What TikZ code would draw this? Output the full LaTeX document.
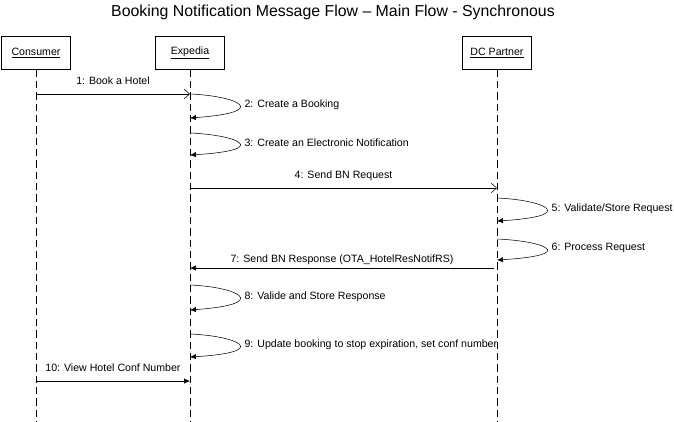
\documentclass[tikz,border=0pt]{standalone}
\usepackage{fontspec}
\setmainfont{Liberation Sans}
\usetikzlibrary{arrows.meta}
\begin{document}
\begin{tikzpicture}[x=0.75pt,y=-0.75pt, font=\fontsize{7.95}{9.5}\selectfont,
  actor/.style={draw, minimum width=52pt, minimum height=24.5pt, inner sep=0pt},
  life/.style={dash pattern=on 5.5pt off 3pt},
  msg/.style={-{Straight Barb[length=4pt,width=7pt]}},
  ret/.style={-{Latex[length=4.5pt,width=4pt]}},
  lbl/.style={inner sep=1pt},
  sl/.style={lbl, anchor=west}]
\useasboundingbox (0,0) rectangle (674,421);
\node[font=\fontsize{11.9}{13}\selectfont] (title) at (333,12) {Booking Notification Message Flow – Main Flow - Synchronous};
\node[actor] (con) at (36,53) {\underline{Consumer}};
\node[actor] (exp) at (190,53) {\underline{Expedia}};
\node[actor] (dcp) at (497,53) {\underline{DC Partner}};
\coordinate (conE) at (36,421);
\coordinate (expE) at (190,421);
\coordinate (dcpE) at (497,421);
\draw[life] (con) -- (conE);
\draw[life] (exp) -- (expE);
\draw[life] (dcp) -- (dcpE);
% 1
\coordinate (m1a) at (36,94); \coordinate (m1b) at (190,94);
\draw[msg] (m1a) -- node[lbl, above=6pt] {1: Book a Hotel} (m1b);
% 2
\coordinate (m2a) at (190,94); \coordinate (m2b) at (190,118);
\draw[ret] (m2a) .. controls (238,96) and (272,112) .. (m2b);
\node[sl] (l2) at (243,105) {2: Create a Booking};
% 3
\coordinate (m3a) at (190,133); \coordinate (m3b) at (190,155);
\draw[ret] (m3a) .. controls (238,135) and (272,150) .. (m3b);
\node[sl] (l3) at (243,143) {3: Create an Electronic Notification};
% 4
\coordinate (m4a) at (190,188); \coordinate (m4b) at (497,188);
\draw[msg] (m4a) -- node[lbl, above=4.5pt] {4: Send BN Request} (m4b);
% 5
\coordinate (m5a) at (497,198); \coordinate (m5b) at (497,221);
\draw[ret] (m5a) .. controls (545,200) and (579,216) .. (m5b);
\node[sl] (l5) at (550,209) {5: Validate/Store Request};
% 6
\coordinate (m6a) at (497,239); \coordinate (m6b) at (497,260);
\draw[ret] (m6a) .. controls (545,241) and (579,255) .. (m6b);
\node[sl] (l6) at (550,248) {6: Process Request};
% 7
\coordinate (m7a) at (494,268); \coordinate (m7b) at (190,268);
\draw[ret] (m7a) -- node[lbl, above=1.5pt] {7: Send BN Response (OTA\_HotelResNotifRS)} (m7b);
% 8
\coordinate (m8a) at (190,285); \coordinate (m8b) at (190,310);
\draw[ret] (m8a) .. controls (238,287) and (272,304) .. (m8b);
\node[sl] (l8) at (243,297) {8: Valide and Store Response};
% 9
\coordinate (m9a) at (190,334); \coordinate (m9b) at (190,357);
\draw[ret] (m9a) .. controls (238,336) and (272,352) .. (m9b);
\node[sl] (l9) at (243,345) {9: Update booking to stop expiration, set conf number};
% 10
\coordinate (m10a) at (36,381); \coordinate (m10b) at (190,381);
\draw[ret] (m10a) -- node[lbl, above=5.5pt] {10: View Hotel Conf Number} (m10b);
\end{tikzpicture}
\end{document}
